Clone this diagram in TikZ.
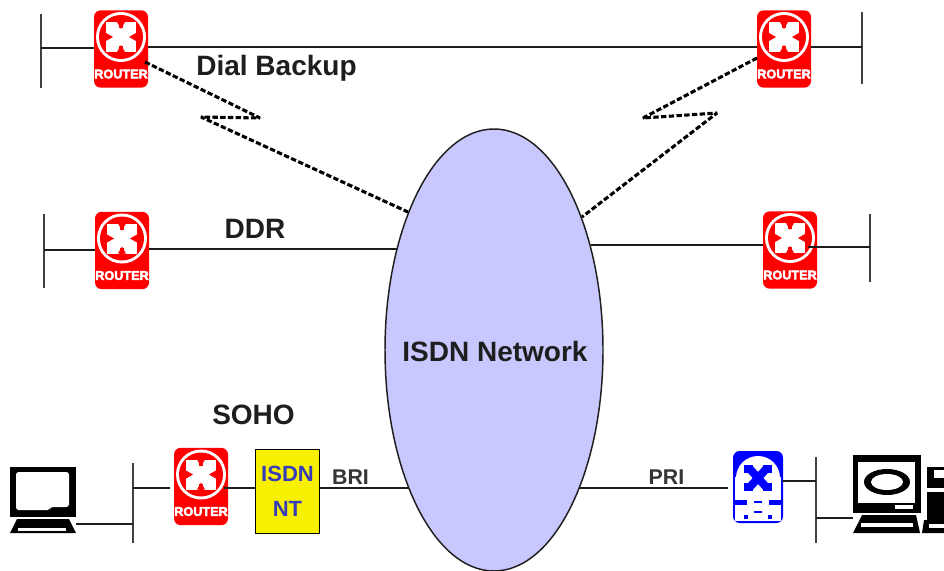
\documentclass[tikz,border=0pt]{standalone}
\usepackage{fontspec}
\setmainfont{Liberation Sans}
\newfontfamily\routerfont[FakeBold=3.5]{Liberation Sans}
\usetikzlibrary{shapes.geometric}
\definecolor{routerred}{RGB}{255,0,0}
\definecolor{muxblue}{RGB}{0,0,255}
\definecolor{cloudblue}{RGB}{200,200,255}
\definecolor{ink}{RGB}{30,30,30}
\definecolor{ntyellow}{RGB}{247,240,0}
\definecolor{nttext}{RGB}{55,60,185}
\tikzset{
  wire/.style={draw=ink,line width=1.4pt},
  busbar/.style={draw=ink!85!white,line width=1.8pt},
  dialwire/.style={draw=black,line width=2.3pt,dash pattern=on 4pt off 1.8pt,line join=bevel},
  routerbox/.style={fill=#1,draw=none,rounded corners=5pt,minimum width=40.5pt,minimum height=58pt,inner sep=0pt},
  bigl/.style={font=\bfseries\fontsize{21}{24}\selectfont,text=ink,inner sep=0pt},
  smalll/.style={font=\bfseries\fontsize{16}{18}\selectfont,text=ink!90!white,inner sep=0pt},
  blackbox/.style={fill=black,draw=none,inner sep=0pt},
  basebox/.style={draw=none,inner sep=0pt},
  cutout/.style={fill=white,draw=none},
}
% red router face, drawn over the named box #1 (offsets in reference pixels)
\newcommand{\routerface}[1]{%
  \begin{scope}[shift={(#1.center)}]
    \fill[white] (0,-12) circle[radius=25];
    \fill[routerred] (0,-12) circle[radius=22];
    \fill[white] (-15,-27) rectangle (15,3);
    \fill[routerred] (-15,-16) -- (-8,-12) -- (-15,-8) -- cycle;
    \fill[routerred] (15,-16) -- (8,-12) -- (15,-8) -- cycle;
    \fill[routerred] (-4,-27) -- (0,-20) -- (4,-27) -- cycle;
    \fill[routerred] (-4,3) -- (0,-4) -- (4,3) -- cycle;
    \fill[routerred] (-2,-27) rectangle (2,-21);
    \fill[routerred] (-2,3) rectangle (2,-3);
    \fill[routerred] (-27,17) rectangle (27,30);
    \node[text=white,inner sep=0pt,font=\routerfont\bfseries\fontsize{9.5}{10}\selectfont] (#1label) at (0,25) {ROUTER};
  \end{scope}}
\begin{document}
\begin{tikzpicture}[x=0.75pt,y=-0.75pt]
\useasboundingbox (0,0) rectangle (944,570);
\fill[white] (0,0) rectangle (944,570);

% named points
\coordinate (b1t) at (41,14);   \coordinate (b1b) at (41,88);   \coordinate (b1c) at (41,48);
\coordinate (b2t) at (862,12);  \coordinate (b2b) at (862,84);  \coordinate (b2c) at (862,47);
\coordinate (b3t) at (44,214);  \coordinate (b3b) at (44,288);  \coordinate (b3c) at (44,250);
\coordinate (b4t) at (870,214); \coordinate (b4b) at (870,282); \coordinate (b4c) at (870,247);
\coordinate (b5t) at (133,463); \coordinate (b5b) at (133,543); \coordinate (b5c) at (133,488); \coordinate (b5d) at (133,524);
\coordinate (b6t) at (816,457); \coordinate (b6b) at (816,543); \coordinate (b6c) at (816,481); \coordinate (b6d) at (816,518);
\coordinate (eddrl) at (397,249);
\coordinate (eddrr) at (591,245);
\coordinate (ebri) at (409,488);
\coordinate (epri) at (579,488);
\coordinate (ldl) at (408,212);
\coordinate (ldr) at (582,217);
\coordinate (l1s) at (145,62); \coordinate (l1a) at (260,118); \coordinate (l1b) at (201,117);
\coordinate (l2s) at (757,58); \coordinate (l2a) at (643,118); \coordinate (l2b) at (717,113);

% buses
\foreach \n in {1,...,6} \draw[busbar] (b\n t) -- (b\n b);

% network
\node[ellipse,fill=cloudblue,draw=ink,line width=1.1pt,minimum width=163.5pt,minimum height=331.5pt,inner sep=0pt] (isdn) at (494,350) {};
\node[bigl] (isdnl) at (495,351) {ISDN Network};

% labels
\node[bigl] (ldial) at (276.5,68) {Dial Backup};
\node[bigl] (lddr) at (255,229) {DDR};
\node[bigl] (lsoho) at (253.5,415) {SOHO};
\node[smalll] (lbri) at (350.5,477) {BRI};
\node[smalll] (lpri) at (666.5,477) {PRI};

% routers
\node[routerbox=routerred] (r1) at (121,49) {};
\node[routerbox=routerred] (r2) at (784,49) {};
\node[routerbox=routerred] (r3) at (122,250.5) {};
\node[routerbox=routerred] (r4) at (790,250) {};
\node[routerbox=routerred] (r5) at (201,486.5) {};
\node[routerbox=muxblue,minimum width=37.5pt,minimum height=54pt] (m1) at (758,487) {};
\node[draw=black,line width=1.3pt,fill=ntyellow,minimum width=48pt,minimum height=63pt,inner sep=0pt,align=center,text=nttext,font=\bfseries\fontsize{16.5}{26}\selectfont] (nt) at (287.5,491.5) {ISDN\\NT};

% router faces
\routerface{r1}\routerface{r2}\routerface{r3}\routerface{r4}\routerface{r5}

% blue device face
\begin{scope}[shift={(m1.center)}]
  \fill[white] (-23,-10) rectangle (23,34);
  \fill[white] (0,-9) circle[radius=22];
  \draw[muxblue,line width=6pt] (-9,-19) -- (9,1) (9,-19) -- (-9,1);
  \fill[muxblue] (-14,-22) rectangle (-5,-14);
  \fill[muxblue] (5,-22) rectangle (14,-14);
  \fill[muxblue] (-14,-4) rectangle (-5,4);
  \fill[muxblue] (5,-4) rectangle (14,4);
  \fill[muxblue] (-23,13) rectangle (-11,18);
  \fill[muxblue] (11,13) rectangle (23,18);
  \fill[muxblue] (-4,14) rectangle (4,16);
  \fill[muxblue] (-4,24) rectangle (4,26);
  \fill[muxblue] (-14,28) rectangle (-10,32);
  \fill[muxblue] (10,28) rectangle (14,32);
\end{scope}

% left computer
\node[blackbox,minimum width=49.5pt,minimum height=37.5pt] (pc1) at (43,492) {};
\fill[cutout,rounded corners=2pt] (16,472) -- (69,472) -- (69,507) -- (50,507) -- (50,510) -- (16,510) -- cycle;
\node[basebox,minimum width=49.5pt,minimum height=10.5pt] (pc1b) at (43,526) {};
\fill[black] (17,519) -- (69,519) -- (76,533) -- (10,533) -- cycle;
\fill[cutout] (18,528) rectangle (66,531);

% right computer
\node[blackbox,minimum width=51pt,minimum height=43.5pt] (pc2) at (887,484) {};
\fill[cutout] (858,462) rectangle (915,503);
\fill[black] (887,482) ellipse[x radius=23,y radius=13];
\fill[white] (887,482) ellipse[x radius=16,y radius=8];
\fill[cutout] (895,505) rectangle (913,509);
\node[basebox,minimum width=50pt,minimum height=13.5pt] (pc2b) at (886.5,524) {};
\fill[black] (862,515) -- (916,515) -- (920,533) -- (853,533) -- cycle;
\fill[cutout] (861,523) rectangle (913,527);
% tower
\fill[black] (927,467) rectangle (944,488);
\fill[cutout] (934,470) rectangle (944,478);
\fill[black] (927,492) rectangle (944,520);
\fill[black] (924,520) -- (944,520) -- (944,533) -- (922,533) -- cycle;
\fill[cutout] (929,524) rectangle (944,528);

% connectors
\draw[wire] (b1c) -- (r1.west |- b1c);
\draw[wire] (r1.east |- b2c) -- (r2.west |- b2c);
\draw[wire] (r2.east |- b2c) -- (b2c);
\draw[wire] (b3c) -- (r3.west |- b3c);
\draw[wire] (r3.east |- eddrl) -- (eddrl);
\draw[wire] (eddrr) -- (r4.west |- eddrr);
\draw[wire] ([xshift=-6.75pt]r4.east |- b4c) -- (b4c);
\draw[wire] (b5c) -- ([xshift=-3pt]r5.west |- b5c);
\draw[wire] ([xshift=-3pt]r5.east |- b5c) -- (nt.west |- b5c);
\draw[wire] (nt.east |- b5c) -- (ebri);
\draw[wire] (pc1b.east |- b5d) -- (b5d);
\draw[wire] (epri) -- ([xshift=-3.5pt]m1.west |- epri);
\draw[wire] ([xshift=-1pt]m1.east |- b6c) -- (b6c);
\draw[wire] (b6d) -- (pc2b.west |- b6d);

% dial backup links
\draw[dialwire] (l1s) -- (l1a) -- (l1b) -- (ldl);
\draw[dialwire] (l2s) -- (l2a) -- (l2b) -- (ldr);
\end{tikzpicture}
\end{document}
